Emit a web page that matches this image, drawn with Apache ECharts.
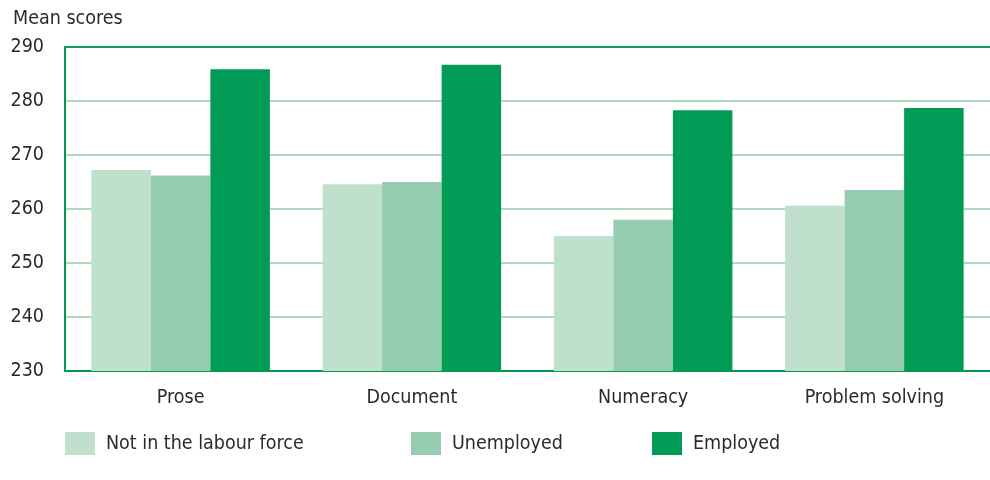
<!DOCTYPE html>
<html>
<head>
<meta charset="utf-8">
<script src="https://cdn.jsdelivr.net/npm/echarts@6/dist/echarts.min.js"></script>
<style>
html,body{margin:0;padding:0;background:#fff;}
#chart{width:990px;height:480px;}
</style>
</head>
<body>
<div id="chart"></div>
<script>
const categories = ['Prose', 'Document', 'Numeracy', 'Problem solving'];
const seriesNames = ['Not in the labour force', 'Unemployed', 'Employed'];
const notInLabourForce = [267.2, 264.6, 255.0, 260.6];
const unemployed = [266.2, 265.0, 258.0, 263.5];
const employed = [285.9, 286.7, 278.3, 278.7];
const yTicks = [230, 240, 250, 260, 270, 280, 290];
const colors = ['#bfe0cd', '#96cdb1', '#009c55'];

const FONT = '"DejaVu Sans Condensed", "Liberation Sans", sans-serif';
const TXT = '#2a2a2a';

const chart = echarts.init(document.getElementById('chart'), null, {renderer: 'canvas'});

const values = [notInLabourForce, unemployed, employed];
const legendLefts = [65, 411, 652];

const option = {
  animation: false,
  backgroundColor: '#ffffff',
  title: {
    text: 'Mean scores',
    left: 13,
    top: 9,
    padding: 0,
    textStyle: {fontFamily: FONT, fontSize: 19.5, fontWeight: 'normal', color: TXT}
  },
  legend: seriesNames.map((n, i) => ({
    data: [n],
    left: legendLefts[i],
    top: 432,
    padding: 0,
    itemWidth: 30,
    itemHeight: 23,
    icon: 'rect',
    selectedMode: false,
    textStyle: {fontFamily: FONT, fontSize: 19.5, color: TXT, padding: [2, 0, 0, 6]}
  })),
  grid: {left: 65, top: 47, width: 928, height: 324, containLabel: false},
  xAxis: [{
    type: 'category',
    data: categories,
    position: 'bottom',
    axisLine: {show: true, lineStyle: {color: '#009c55', width: 2}},
    axisTick: {show: false},
    axisLabel: {fontFamily: FONT, fontSize: 19.5, color: TXT, margin: 17}
  }, {
    type: 'category',
    data: categories,
    position: 'top',
    axisLine: {show: true, lineStyle: {color: '#1a9c5e', width: 2}},
    axisTick: {show: false},
    axisLabel: {show: false}
  }],
  yAxis: {
    type: 'value',
    min: yTicks[0],
    max: yTicks[yTicks.length - 1],
    interval: 10,
    axisLine: {show: true, lineStyle: {color: '#009c55', width: 2}},
    axisTick: {show: false},
    axisLabel: {fontFamily: FONT, fontSize: 19.5, color: TXT, margin: 21},
    splitLine: {show: true, lineStyle: {color: '#98cfb2', width: 1.5}}
  },
  series: seriesNames.map((n, i) => ({
    name: n,
    type: 'bar',
    data: values[i],
    barWidth: 59.5,
    barGap: '0%',
    itemStyle: {color: colors[i]},
    z: 3
  }))
};
chart.setOption(option);
</script>
</body>
</html>
